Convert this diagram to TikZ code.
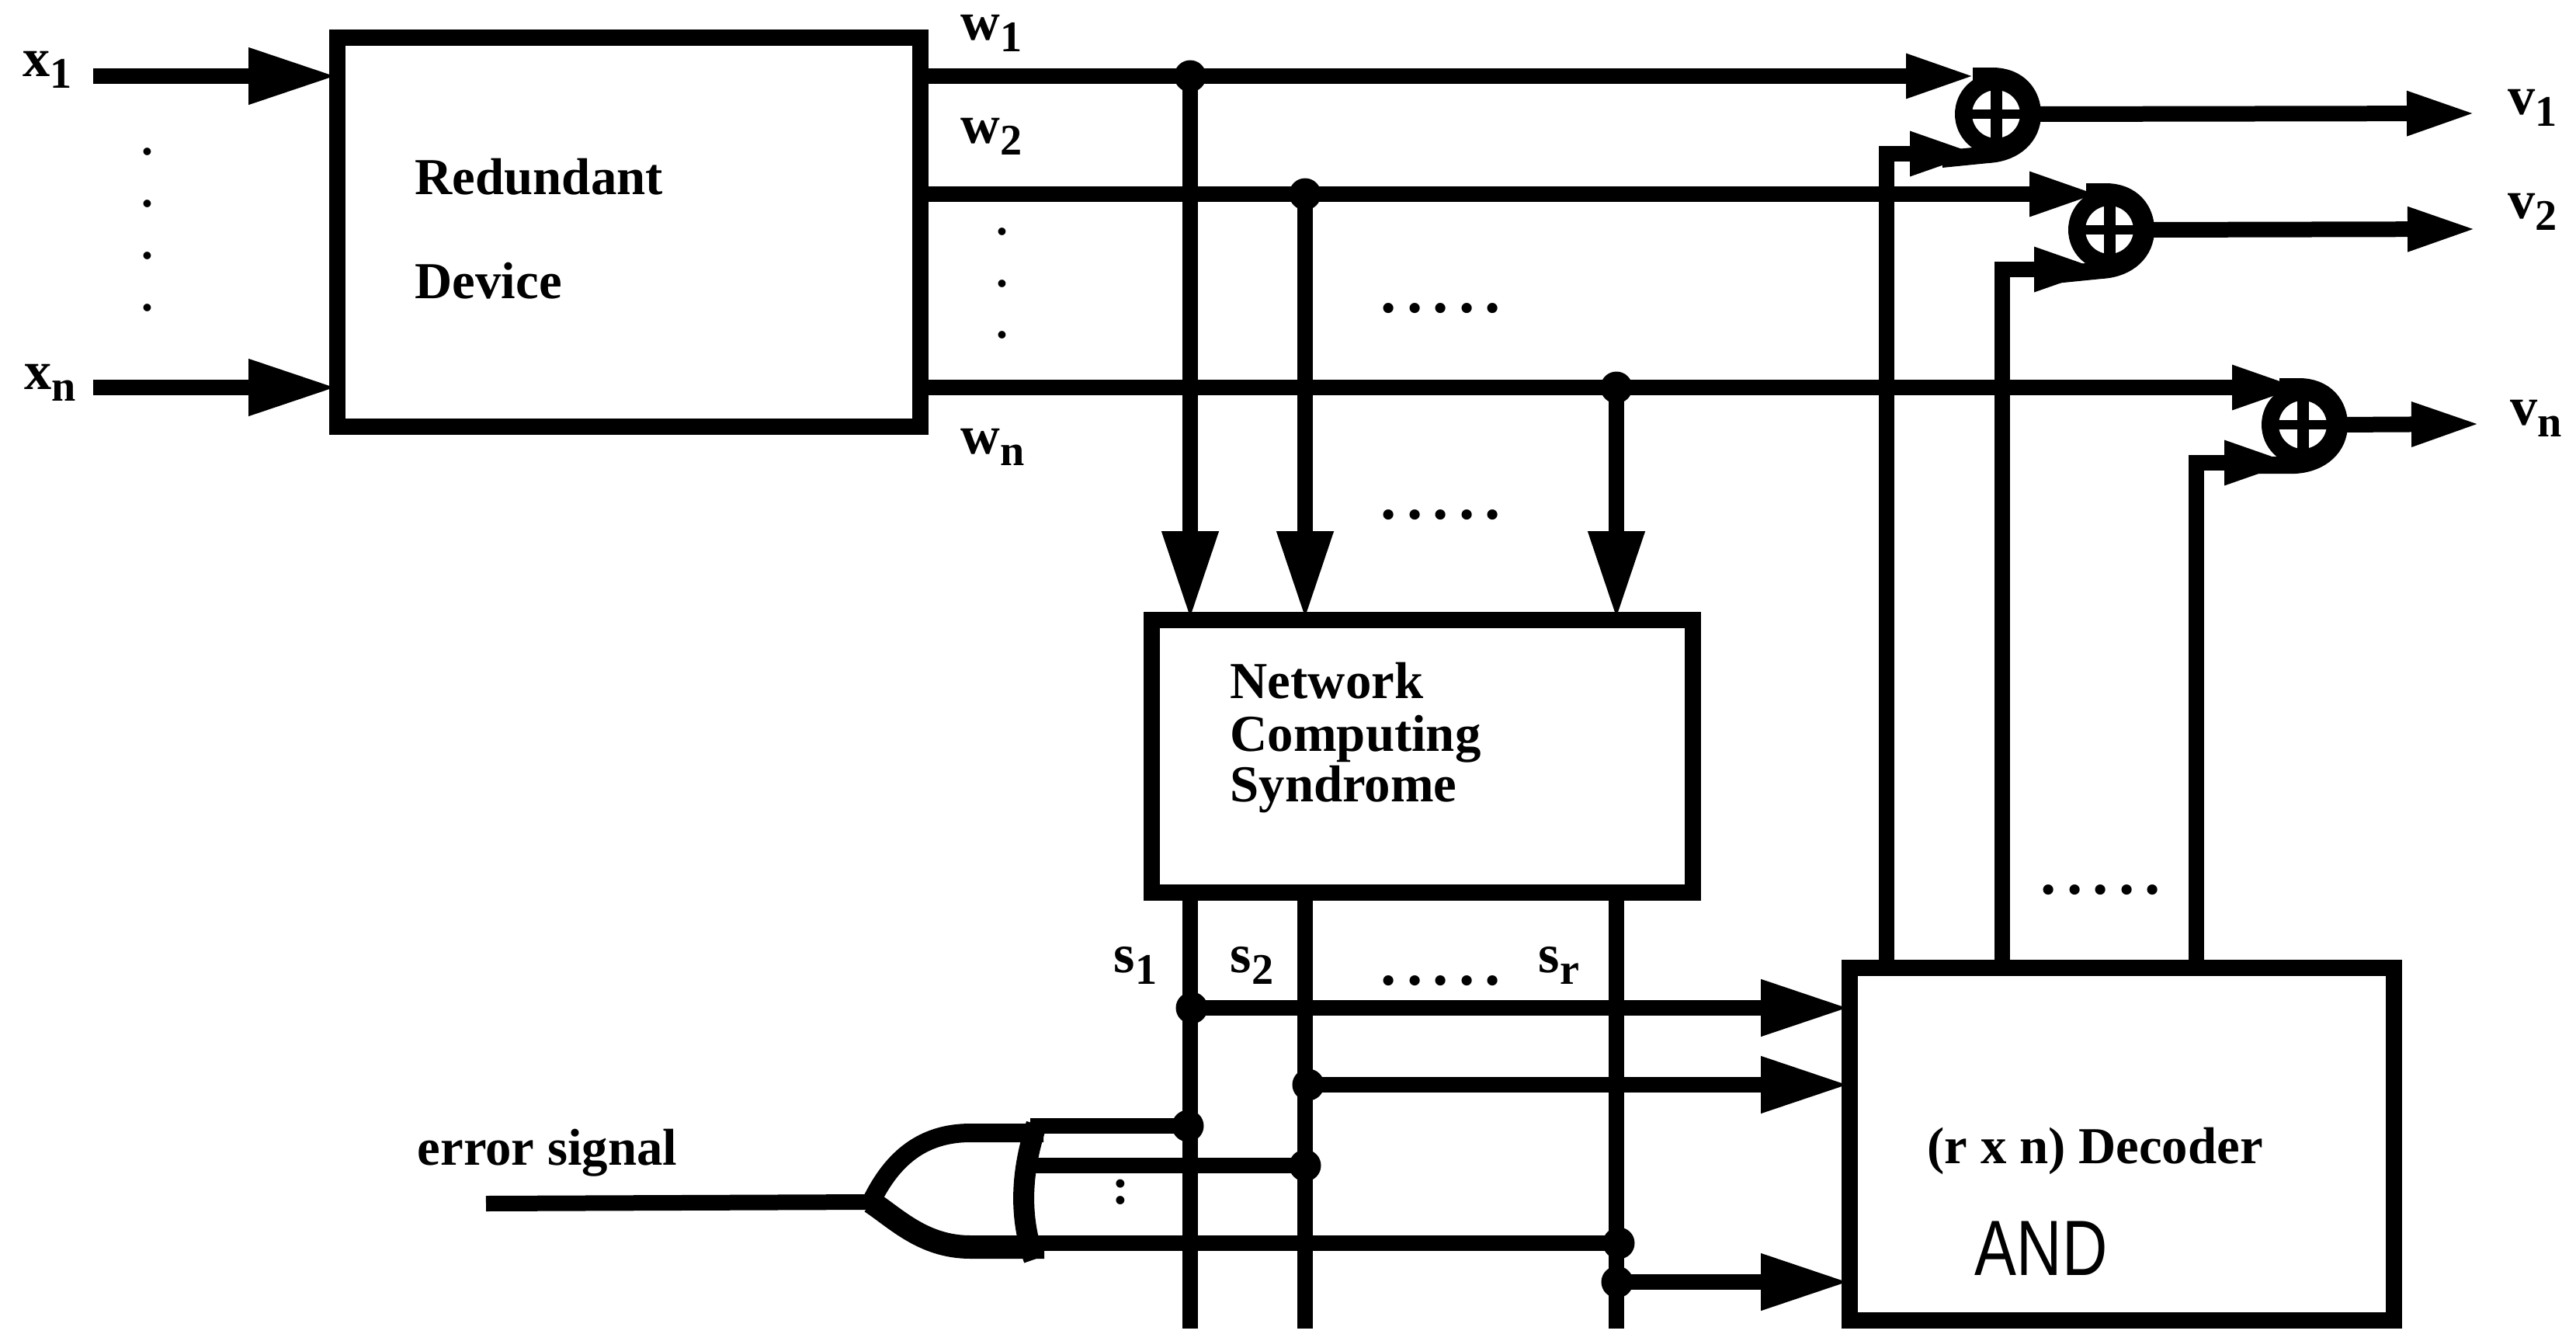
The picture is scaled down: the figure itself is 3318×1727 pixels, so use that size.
\documentclass[tikz,border=0pt]{standalone}
\usepackage{fontspec}
\setmainfont{Liberation Serif}
\newfontfamily\handfont{Liberation Sans}
\usetikzlibrary{arrows.meta,positioning,calc}

\newcommand{\sublab}[2]{#1\raisebox{-1.5mm}{\fontsize{16}{16}\selectfont #2}}
\newcommand{\fivedots}{.\kern3.78pt.\kern3.78pt.\kern3.78pt.\kern3.78pt.}

\begin{document}
\begin{tikzpicture}[
  x=0.1mm, y=-0.1mm,
  font=\fontsize{19}{19}\selectfont\bfseries,
  box/.style={draw=black, line width=2.1mm, inner sep=0pt, outer sep=0pt},
  wire/.style={draw=black, line width=2mm},
  arr/.style={wire, -{Triangle[length=11.4mm,width=6.8mm]}},
  sarr/.style={wire, -{Triangle[length=9mm,width=5.2mm]}},
  dot/.style={circle, fill=black, inner sep=0pt, outer sep=0pt, minimum size=4.1mm},
  xorg/.style={circle, draw=black, line width=2.2mm, inner sep=0pt, outer sep=0pt, minimum size=8.4mm},
  shell/.style={draw=black, line width=2.2mm},
  lab/.style={anchor=base west, inner sep=0pt, align=left},
  idx/.style={lab, font=\fontsize{20}{20}\selectfont\bfseries},
  dots/.style={inner sep=0pt, align=center, font=\fontsize{23}{23}\selectfont\bfseries},
  vdots/.style={inner sep=0pt, align=center, font=\fontsize{17}{19}\selectfont\bfseries}
]
\useasboundingbox (0,0) rectangle (3318,1727);

% blocks
\node[box, minimum width=75.1mm, minimum height=50.1mm] (red) at (809.5,299) {};
\node[box, minimum width=69.7mm, minimum height=35.1mm] (net) at (1831.5,973.5) {};
\node[box, minimum width=70.1mm, minimum height=45.4mm] (dec) at (2732.5,1473) {};
\node[lab] (redt) at (534,250) {Redundant};
\node[lab] (devt) at (534,384) {Device};
\node[lab] (nett) at (1584,899) {Network};
\node[lab] (comt) at (1584,967) {Computing};
\node[lab] (synt) at (1584,1032) {Syndrome};
\node[lab] (dect) at (2482,1498) {(r x n) Decoder};
\node[lab, font=\handfont\fontsize{23}{23}\selectfont] (andt) at (2543,1642) {\scalebox{1}[1.25]{AND}};

% xor gates
\node[xorg] (g1) at (2571,147) {};
\node[xorg] (g2) at (2717,296) {};
\node[xorg] (g3) at (2966,547) {};
\draw[line width=1.5mm] (g1.north) -- (g1.south);
\draw[line width=1.2mm] (g1.west) -- (g1.east);
\draw[line width=1.5mm] (g2.north) -- (g2.south);
\draw[line width=1.2mm] (g2.west) -- (g2.east);
\draw[line width=1.5mm] (g3.north) -- (g3.south);
\draw[line width=1.2mm] (g3.west) -- (g3.east);
\draw[shell, shift={(g1.center)}] (-30,-49) -- (-5,-49) .. controls (30,-49) and (47,-25) .. (47,0) .. controls (47,28) and (25,50) .. (-10,52) -- (-70,58);
\draw[shell, shift={(g2.center)}] (-30,-49) -- (-5,-49) .. controls (30,-49) and (47,-25) .. (47,0) .. controls (47,28) and (25,50) .. (-10,52) -- (-70,58);
\draw[shell, shift={(g3.center)}] (-30,-49) -- (-5,-49) .. controls (30,-49) and (47,-25) .. (47,0) .. controls (47,28) and (25,50) .. (-10,52) -- (-60,52);

% inputs
\coordinate (x1s) at (120,98);
\coordinate (xns) at (120,499);
\draw[arr] (x1s) -- (red.west |- x1s);
\draw[arr] (xns) -- (red.west |- xns);
\node[idx] (x1t) at (29,98) {\sublab{x}{1}};
\node[idx] (xnt) at (31,501) {\sublab{x}{n}};
\node[vdots] (xdots) at (190,296) {.\\.\\.\\.};

% redundant outputs
\node[dot] (j1) at (1533,98) {};
\node[dot] (j2) at (1681,250) {};
\node[dot] (j3) at (2082,499) {};
\coordinate (g1a) at (2545,98);
\coordinate (g2a) at (2704,250);
\coordinate (g3a) at (2965,499);
\draw[sarr] (red.east |- j1) -- (g1a);
\draw[sarr] (red.east |- j2) -- (g2a);
\draw[sarr] (red.east |- j3) -- (g3a);
\node[idx] (w1t) at (1237,51) {\sublab{w}{1}};
\node[idx] (w2t) at (1237,184) {\sublab{w}{2}};
\node[idx] (wnt) at (1237,584) {\sublab{w}{n}};
\node[vdots] (wdots) at (1291,365) {.\\.\\.};
\node[dots] (dots1) at (1856,397) {\fivedots};
\node[dots] (dots2) at (1856,663) {\fivedots};
\draw[arr] (j1.center) -- (net.north -| j1);
\draw[arr] (j2.center) -- (net.north -| j2);
\draw[arr] (j3.center) -- (net.north -| j3);

% gate outputs
\coordinate (v1e) at (3190,146);
\coordinate (v2e) at (3191,295);
\coordinate (vne) at (3196,546);
\draw[sarr] (g1.east) -- (v1e);
\draw[sarr] (g2.east) -- (v2e);
\draw[sarr] (g3.east) -- (vne);
\node[idx] (v1t) at (3230,147) {\sublab{v}{1}};
\node[idx] (v2t) at (3230,281) {\sublab{v}{2}};
\node[idx] (vnt) at (3233,547) {\sublab{v}{n}};

% decoder to gates
\coordinate (d1) at (2430,198);
\coordinate (d2) at (2579,347);
\coordinate (d3) at (2829,596);
\coordinate (g1b) at (2550,198);
\coordinate (g2b) at (2710,347);
\coordinate (g3b) at (2955,596);
\draw[sarr] (dec.north -| d1) -- (d1) -- (g1b);
\draw[sarr] (dec.north -| d2) -- (d2) -- (g2b);
\draw[sarr] (dec.north -| d3) -- (d3) -- (g3b);
\node[dots] (dots3) at (2706,1146) {\fivedots};

% syndrome lines
\coordinate (s1e) at (1533,1711);
\coordinate (s2e) at (1681,1711);
\coordinate (sre) at (2082,1711);
\draw[wire] (net.south -| s1e) -- (s1e);
\draw[wire] (net.south -| s2e) -- (s2e);
\draw[wire] (net.south -| sre) -- (sre);
\node[idx] (s1t) at (1434,1252) {\sublab{s}{1}};
\node[idx] (s2t) at (1584,1252) {\sublab{s}{2}};
\node[idx] (srt) at (1981,1252) {\sublab{s}{r}};
\node[dots] (dots4) at (1856,1263) {\fivedots};
\node[dot] (k1) at (1535,1298) {};
\node[dot] (k2) at (1685,1397) {};
\node[dot] (k3) at (2083,1651) {};
\draw[arr] (k1.center) -- (dec.west |- k1);
\draw[arr] (k2.center) -- (dec.west |- k2);
\draw[arr] (k3.center) -- (dec.west |- k3);

% error gate
\node[dot] (e1) at (1530,1450) {};
\node[dot] (e2) at (1681,1501) {};
\node[dot] (e3) at (2085,1601) {};
\coordinate (ortip) at (1122,1548);
\coordinate (ortop) at (1327,1450);
\coordinate (ormid) at (1333,1501);
\coordinate (orbot) at (1335,1601);
\coordinate (errs) at (626,1550);
\draw[wire] (errs) -- (ortip);
\draw[wire] (ortop) -- (e1.center);
\draw[wire] (ormid) -- (e2.center);
\draw[wire] (orbot) -- (e3.center);
\draw[shell, line width=2.4mm] (1344,1459) -- (1250,1459) .. controls (1190,1459) and (1150,1490) .. (ortip);
\draw[shell, line width=3mm] (ortip) .. controls (1155,1570) and (1190,1606) .. (1250,1606) -- (1345,1606);
\draw[shell, line width=2.7mm] (1335,1448) .. controls (1318,1500) and (1310,1560) .. (1332,1622);
\node[lab] (errt) at (537,1500) {error signal};
\node[dots, font=\fontsize{19}{19}\selectfont\bfseries] (ordots) at (1444,1535) {:};
\end{tikzpicture}
\end{document}
